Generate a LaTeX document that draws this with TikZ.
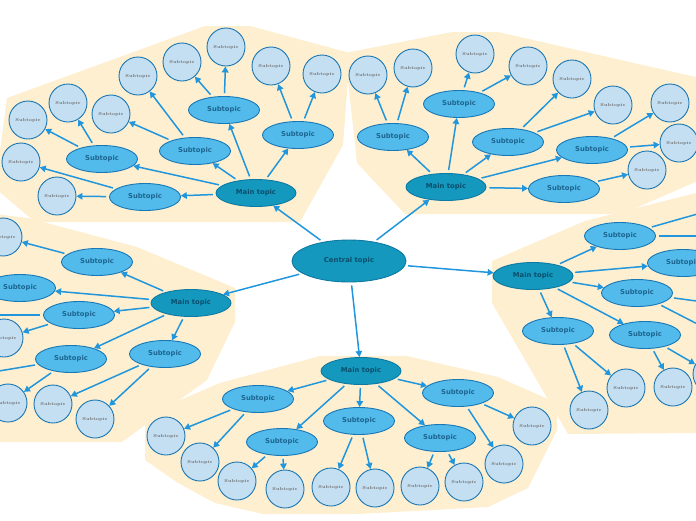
\documentclass[tikz,border=0pt]{standalone}
\usepackage{fontspec}
\setsansfont{DejaVu Sans}
\usetikzlibrary{arrows.meta,shapes.geometric}
\definecolor{bgc}{HTML}{FDEFD0}
\definecolor{topfill}{HTML}{1498BE}
\definecolor{topborder}{HTML}{0E79A2}
\definecolor{toptext}{HTML}{0C4F6C}
\definecolor{subfill}{HTML}{53BBEB}
\definecolor{subborder}{HTML}{1877B5}
\definecolor{subtext}{HTML}{1D6590}
\definecolor{leaffill}{HTML}{C5DFF2}
\definecolor{leafborder}{HTML}{1B77B3}
\definecolor{leaftext}{HTML}{6A6A6A}
\definecolor{arrowc}{HTML}{2196DC}
\tikzset{
  central/.style={ellipse, draw=topborder, fill=topfill, line width=0.9pt, minimum width=114pt, minimum height=42pt, inner sep=0pt, font=\sffamily\bfseries\fontsize{6.9}{8}\selectfont, text=toptext},
  maintopic/.style={ellipse, draw=topborder, fill=topfill, line width=0.9pt, minimum width=80pt, minimum height=27pt, inner sep=0pt, font=\sffamily\bfseries\fontsize{6.8}{8}\selectfont, text=toptext},
  subtopic/.style={ellipse, draw=subborder, fill=subfill, line width=0.9pt, minimum width=71pt, minimum height=27pt, inner sep=0pt, font=\sffamily\bfseries\fontsize{6.8}{8}\selectfont, text=subtext},
  leaf/.style={circle, draw=leafborder, fill=leaffill, line width=0.9pt, minimum size=38pt, inner sep=0pt, font=\bfseries\fontsize{4.3}{5}\selectfont, text=leaftext},
  conn/.style={draw=arrowc, line width=1.5pt, -{Triangle[length=6pt,width=6.5pt]}, shorten <=3pt},
  zone/.style={fill=bgc, draw=none}
}
\begin{document}
\begin{tikzpicture}[x=1pt,y=-1pt]
\useasboundingbox (0,0) rectangle (696,520);
\clip (0,0) rectangle (696,520);
% background zones
\fill[zone] (-5,188) -- (7,98) -- (205,26) -- (250,26) -- (350,53) -- (343,145) -- (300,222) -- (35,222) -- cycle;
\fill[zone] (345,53) -- (452,32) -- (498,32) -- (700,78) -- (700,180) -- (622,214) -- (405,214) -- (357,163) -- cycle;
\fill[zone] (492,261) -- (585,221) -- (700,192) -- (700,433) -- (568,434) -- (492,303) -- cycle;
\fill[zone] (-5,214) -- (28,218) -- (137,247) -- (235,288) -- (235,322) -- (207,380) -- (122,442) -- (-5,442) -- cycle;
\fill[zone] (145,415) -- (220,383) -- (320,356) -- (407,356) -- (498,377) -- (557,403) -- (557,430) -- (528,488) -- (488,507) -- (358,514) -- (263,514) -- (215,503) -- (178,483) -- (145,460) -- cycle;

% central
\node[central] (C) at (349,261) {Central topic};

% top-left cluster
\node[maintopic] (A) at (256,193) {Main topic};
\node[subtopic] (A1) at (145,197) {Subtopic};
\node[subtopic] (A2) at (102,159) {Subtopic};
\node[subtopic] (A3) at (195,151) {Subtopic};
\node[subtopic] (A4) at (224,110) {Subtopic};
\node[subtopic] (A5) at (298,135) {Subtopic};
\node[leaf] (A1a) at (57,196) {Subtopic};
\node[leaf] (A1b) at (21,162) {Subtopic};
\node[leaf] (A2a) at (28,120) {Subtopic};
\node[leaf] (A2b) at (68,103) {Subtopic};
\node[leaf] (A3a) at (111,114) {Subtopic};
\node[leaf] (A3b) at (138,76) {Subtopic};
\node[leaf] (A4a) at (182,62) {Subtopic};
\node[leaf] (A4b) at (226,47) {Subtopic};
\node[leaf] (A5a) at (271,66) {Subtopic};
\node[leaf] (A5b) at (322,74) {Subtopic};

% top-right cluster
\node[maintopic] (B) at (446,187) {Main topic};
\node[subtopic] (B1) at (393,137) {Subtopic};
\node[subtopic] (B2) at (459,104) {Subtopic};
\node[subtopic] (B3) at (508,142) {Subtopic};
\node[subtopic] (B4) at (592,150) {Subtopic};
\node[subtopic] (B5) at (564,189) {Subtopic};
\node[leaf] (B1a) at (368,75) {Subtopic};
\node[leaf] (B1b) at (413,68) {Subtopic};
\node[leaf] (B2a) at (475,54) {Subtopic};
\node[leaf] (B2b) at (528,66) {Subtopic};
\node[leaf] (B3a) at (572,79) {Subtopic};
\node[leaf] (B3b) at (613,105) {Subtopic};
\node[leaf] (B4a) at (670,103) {Subtopic};
\node[leaf] (B4b) at (679,143) {Subtopic};
\node[leaf] (B5a) at (647,170) {Subtopic};

% right cluster
\node[maintopic] (R) at (533,276) {Main topic};
\node[subtopic] (R1) at (620,236) {Subtopic};
\node[subtopic] (R2) at (683,263) {Subtopic};
\node[subtopic] (R3) at (637,293) {Subtopic};
\node[subtopic] (R4) at (558,331) {Subtopic};
\node[subtopic] (R5) at (645,335) {Subtopic};
\coordinate (R1a) at (722,207);
\coordinate (R1b) at (720,236);
\coordinate (R3a) at (726,305);
\coordinate (R3b) at (715,333);
\node[leaf] (R4a) at (589,410) {Subtopic};
\node[leaf] (R4b) at (626,388) {Subtopic};
\node[leaf] (R5a) at (673,387) {Subtopic};
\node[leaf] (R5b) at (712,374) {Subtopic};

% left cluster
\node[maintopic] (L) at (191,303) {Main topic};
\node[subtopic] (L1) at (97,262) {Subtopic};
\node[subtopic] (L2) at (20,288) {Subtopic};
\node[subtopic] (L3) at (79,315) {Subtopic};
\node[subtopic] (L4) at (71,359) {Subtopic};
\node[subtopic] (L5) at (165,354) {Subtopic};
\node[leaf] (L1a) at (3,237) {Subtopic};
\coordinate (L3a) at (-22,315);
\node[leaf] (L3b) at (4,338) {Subtopic};
\coordinate (L4a) at (-25,375);
\node[leaf] (L4b) at (8,403) {Subtopic};
\node[leaf] (L5a) at (53,404) {Subtopic};
\node[leaf] (L5b) at (95,419) {Subtopic};

% bottom cluster
\node[maintopic] (D) at (361,371) {Main topic};
\node[subtopic] (D1) at (258,399) {Subtopic};
\node[subtopic] (D2) at (282,442) {Subtopic};
\node[subtopic] (D3) at (359,421) {Subtopic};
\node[subtopic] (D4) at (458,393) {Subtopic};
\node[subtopic] (D5) at (440,438) {Subtopic};
\node[leaf] (D1a) at (166,436) {Subtopic};
\node[leaf] (D1b) at (200,462) {Subtopic};
\node[leaf] (D2a) at (237,481) {Subtopic};
\node[leaf] (D2b) at (285,489) {Subtopic};
\node[leaf] (D3a) at (331,487) {Subtopic};
\node[leaf] (D3b) at (375,488) {Subtopic};
\node[leaf] (D5a) at (420,486) {Subtopic};
\node[leaf] (D5b) at (464,482) {Subtopic};
\node[leaf] (D4a) at (504,464) {Subtopic};
\node[leaf] (D4b) at (532,426) {Subtopic};

% connectors
\foreach \s/\t in {C/A, C/B, C/L, C/R, C/D,
  A/A1, A/A2, A/A3, A/A4, A/A5,
  A1/A1a, A1/A1b, A2/A2a, A2/A2b, A3/A3a, A3/A3b, A4/A4a, A4/A4b, A5/A5a, A5/A5b,
  B/B1, B/B2, B/B3, B/B4, B/B5,
  B1/B1a, B1/B1b, B2/B2a, B2/B2b, B3/B3a, B3/B3b, B4/B4a, B4/B4b, B5/B5a,
  R/R1, R/R2, R/R3, R/R4, R/R5,
  R1/R1a, R1/R1b, R3/R3a, R3/R3b, R4/R4a, R4/R4b, R5/R5a, R5/R5b,
  L/L1, L/L2, L/L3, L/L4, L/L5,
  L1/L1a, L3/L3a, L3/L3b, L4/L4a, L4/L4b, L5/L5a, L5/L5b,
  D/D1, D/D2, D/D3, D/D4, D/D5,
  D1/D1a, D1/D1b, D2/D2a, D2/D2b, D3/D3a, D3/D3b, D5/D5a, D5/D5b, D4/D4a, D4/D4b}
  \draw[conn] (\s) -- (\t);
\end{tikzpicture}
\end{document}
